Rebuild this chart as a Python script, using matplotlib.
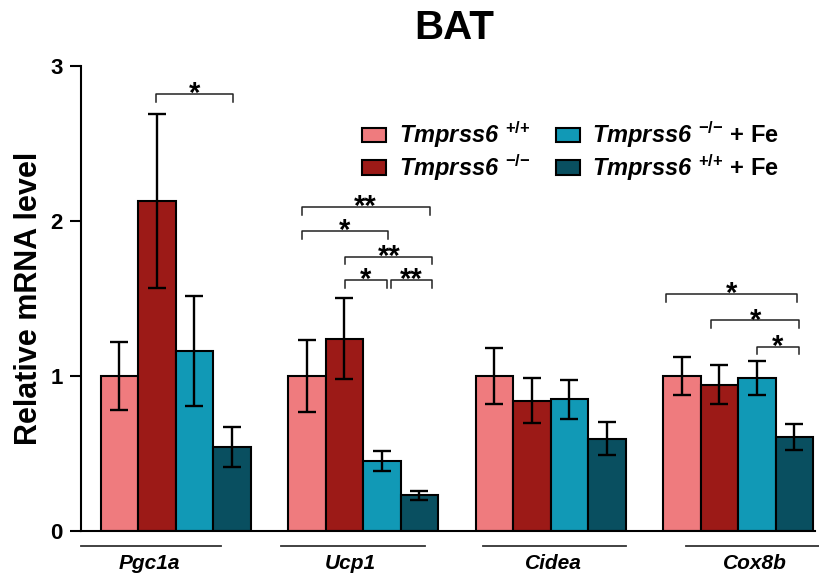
import matplotlib
matplotlib.use('Agg')
import matplotlib.pyplot as plt
import numpy as np

plt.rcParams['font.family'] = ['Liberation Sans', 'DejaVu Sans']
plt.rcParams['font.weight'] = 'bold'
plt.rcParams['mathtext.fontset'] = 'custom'
plt.rcParams['mathtext.rm'] = 'Liberation Sans:bold'
plt.rcParams['mathtext.it'] = 'Liberation Sans:italic:bold'
plt.rcParams['mathtext.bf'] = 'Liberation Sans:bold'

genes = ['Pgc1a', 'Ucp1', 'Cidea', 'Cox8b']
groups = [r'Tmprss6$^{\ \,{+}/{+}}$',
          r'Tmprss6$^{\ \,{-}/{-}}$',
          r'Tmprss6$^{\ \,{-}/{-}}\ \mathrm{+\ Fe}$',
          r'Tmprss6$^{\ \,{+}/{+}}\ \mathrm{+\ Fe}$']

wt = [1.0, 1.0, 1.0, 1.0]
ko = [2.13, 1.24, 0.84, 0.945]
ko_fe = [1.16, 0.45, 0.85, 0.985]
wt_fe = [0.54, 0.23, 0.595, 0.605]

wt_err = [0.22, 0.235, 0.18, 0.125]
ko_err = [0.56, 0.26, 0.145, 0.125]
ko_fe_err = [0.355, 0.063, 0.125, 0.11]
wt_fe_err = [0.13, 0.027, 0.105, 0.083]

# significance brackets: x1, x2, y, label
brackets = [
    (0.98, 3.03, 2.82, '*'),
    (4.86, 8.28, 2.09, '**'),
    (4.86, 7.16, 1.935, '*'),
    (6.03, 8.35, 1.77, '**'),
    (6.03, 7.13, 1.62, '*'),
    (7.24, 8.35, 1.62, '**'),
    (14.59, 18.07, 1.53, '*'),
    (15.79, 18.13, 1.36, '*'),
    (17.0, 18.13, 1.19, '*'),
]

colors = ['#EF7B7E', '#9C1A17', '#1199B6', '#094F60']
means = [wt, ko, ko_fe, wt_fe]
errs = [wt_err, ko_err, ko_fe_err, wt_fe_err]

fig = plt.figure(figsize=(8.19, 5.81), dpi=100)
ax = fig.add_axes([0.0989, 0.0861, 0.8962, 0.8003])

base = np.arange(len(genes)) * 5
for i in range(4):
    ax.bar(base + i, means[i], width=1.0, color=colors[i], edgecolor='black',
           linewidth=1.5, label=groups[i], zorder=2)
    ax.errorbar(base + i, means[i], yerr=errs[i], fmt='none', ecolor='black',
                elinewidth=1.7, capsize=6.5, capthick=1.7, zorder=3)

for x1, x2, y, lab in brackets:
    h = 0.05
    ax.plot([x1, x1, x2, x2], [y - h, y, y, y - h], color='#222222', lw=1.1,
            clip_on=False)
    ax.annotate(lab, ((x1 + x2) / 2, y), xytext=(0, -6),
                textcoords='offset points', ha='center', va='baseline',
                fontsize=21, fontweight='bold')

ax.set_xlim(-1.02, 18.55)
ax.set_ylim(0, 3)
ax.set_yticks([0, 1, 2, 3])
ax.tick_params(axis='y', length=8, width=1.5, pad=5, labelsize=16)
ax.set_xticks([])
for s in ['top', 'right']:
    ax.spines[s].set_visible(False)
for s in ['left', 'bottom']:
    ax.spines[s].set_linewidth(1.5)

ax.set_ylabel('Relative mRNA level', fontsize=22, fontweight='bold', labelpad=5)

# gene labels with lines underneath
line_spans = [(-1.02, 2.71), (4.31, 8.14), (9.71, 13.52), (15.12, 18.9)]
label_x = [0.80, 6.17, 11.57, 16.96]
trans = ax.get_xaxis_transform()
for g, (a, b), lx in zip(genes, line_spans, label_x):
    ax.plot([a, b], [-0.032, -0.032], color='#333333', lw=1.3,
            transform=trans, clip_on=False)
    ax.text(lx, -0.071, g, transform=trans, ha='center', va='center',
            fontsize=15, fontweight='bold', style='italic')

ax.legend(ncol=2, frameon=False, loc='upper left', bbox_to_anchor=(0.37, 0.905),
          prop={'size': 17, 'weight': 'bold', 'style': 'italic'},
          handlelength=1.0, handleheight=0.55, handletextpad=0.55,
          columnspacing=1.1, labelspacing=0.08, borderaxespad=0)

fig.text(454 / 819, 1 - 28 / 581, 'BAT', ha='center', va='center',
         fontsize=29, fontweight='bold')

fig.savefig('out.png', dpi=100)
